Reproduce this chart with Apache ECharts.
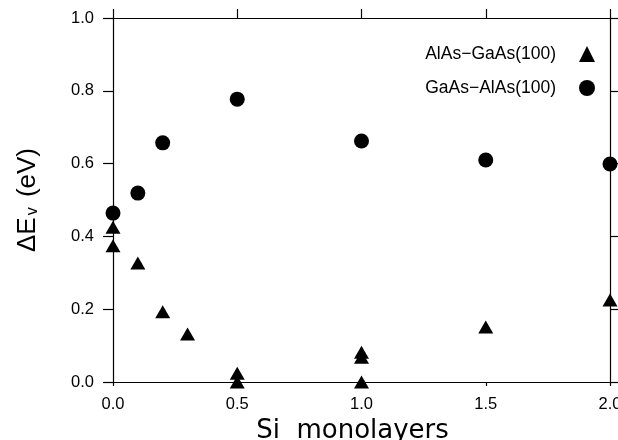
<!DOCTYPE html>
<html>
<head>
<meta charset="utf-8">
<script src="https://cdn.jsdelivr.net/npm/echarts@6/dist/echarts.min.js"></script>
<style>
  html, body { margin: 0; padding: 0; background: #fff; }
  #chart { width: 618px; height: 440px; }
</style>
</head>
<body>
<div id="chart"></div>
<script>
// AlAs-GaAs(100): triangles
const alasGaasX = [0, 0, 0.1, 0.2, 0.3, 0.5, 0.5, 1.0, 1.0, 1.0, 1.5, 2.0]
const alasGaasY = [0.425, 0.374, 0.327, 0.193, 0.132, 0.024, 0.0, 0.082, 0.068, 0.0, 0.151, 0.225]
// GaAs-AlAs(100): circles
const gaasAlasX = [0, 0.1, 0.2, 0.5, 1.0, 1.5, 2.0]
const gaasAlasY = [0.464, 0.519, 0.657, 0.777, 0.662, 0.61, 0.599]

const xTicks = [0, 0.5, 1.0, 1.5, 2.0]
const yTicks = [0, 0.2, 0.4, 0.6, 0.8, 1.0]

const pairs = (xs, ys) => xs.map((x, i) => [x, ys[i]])

const font = '"Liberation Sans", Arial, sans-serif'
const ink = '#000'

const baseAxis = {
    axisLine: { show: true, onZero: false, lineStyle: { color: ink, width: 1.2 } },
    splitLine: { show: false },
    axisTick: { show: true, inside: false, length: 9, lineStyle: { color: ink, width: 1.2 } },
    axisLabel: { show: false }
}

const chart = echarts.init(document.getElementById('chart'), null, { renderer: 'canvas' })
chart.setOption({
    animation: false,
    backgroundColor: '#fff',
    grid: { left: 113, right: 8, top: 18, bottom: 58, outerBoundsMode: 'none', containLabel: false },
    legend: {
        right: 18,
        top: 40,
        orient: 'vertical',
        align: 'right',
        itemGap: 16,
        itemWidth: 16,
        itemHeight: 16,
        textStyle: { fontFamily: font, fontSize: 17.5, color: ink, padding: [0, 18, 0, 0] },
        data: [
            { name: 'AlAs\u2212GaAs(100)', icon: 'triangle', itemStyle: { color: '#000', opacity: 1 } },
            { name: 'GaAs\u2212AlAs(100)', icon: 'circle', itemStyle: { color: '#000', opacity: 1 } }
        ]
    },
    xAxis: [
        Object.assign({}, baseAxis, {
            type: 'value', position: 'bottom', min: 0, max: 2, interval: 0.5,
            axisTick: Object.assign({}, baseAxis.axisTick, { length: 4 }),
            axisLabel: {
                show: true, margin: 14, fontFamily: font, fontSize: 16.5, color: ink,
                formatter: v => v.toFixed(1)
            },
            name: 'Si  monolayers',
            nameLocation: 'middle',
            nameGap: 32,
            nameTextStyle: { fontFamily: '"DejaVu Sans", sans-serif', fontSize: 26, color: ink, padding: [0, 18, 0, 0] }
        }),
        Object.assign({}, baseAxis, {
            type: 'value', position: 'top', min: 0, max: 2, interval: 0.5
        })
    ],
    yAxis: [
        Object.assign({}, baseAxis, {
            type: 'value', position: 'left', min: 0, max: 1, interval: 0.2,
            axisTick: Object.assign({}, baseAxis.axisTick, { length: 10 }),
            axisLabel: {
                show: true, margin: 19, fontFamily: font, fontSize: 16.5, color: ink,
                formatter: v => v.toFixed(1)
            },
            name: '{m|\u0394E}{sub|v}{m| (eV)}',
            nameLocation: 'middle',
            nameGap: 72,
            nameRotate: 90,
            nameTextStyle: {
                fontFamily: font, fontSize: 26, color: ink,
                rich: {
                    m: { fontFamily: font, fontSize: 26, color: ink, lineHeight: 26, verticalAlign: 'top' },
                    sub: { fontFamily: font, fontSize: 16, color: ink, lineHeight: 16, verticalAlign: 'bottom', padding: [21, 3, 0, 2] }
                }
            }
        }),
        Object.assign({}, baseAxis, {
            type: 'value', position: 'right', min: 0, max: 1, interval: 0.2,
            axisTick: Object.assign({}, baseAxis.axisTick, { length: 8 })
        })
    ],
    series: [
        {
            name: 'AlAs\u2212GaAs(100)',
            type: 'scatter',
            symbol: 'triangle',
            symbolSize: [15, 13],
            itemStyle: { color: '#000', opacity: 1 },
            data: pairs(alasGaasX, alasGaasY)
        },
        {
            name: 'GaAs\u2212AlAs(100)',
            type: 'scatter',
            symbol: 'circle',
            symbolSize: 15,
            itemStyle: { color: '#000', opacity: 1 },
            data: pairs(gaasAlasX, gaasAlasY)
        }
    ]
})
</script>
</body>
</html>
